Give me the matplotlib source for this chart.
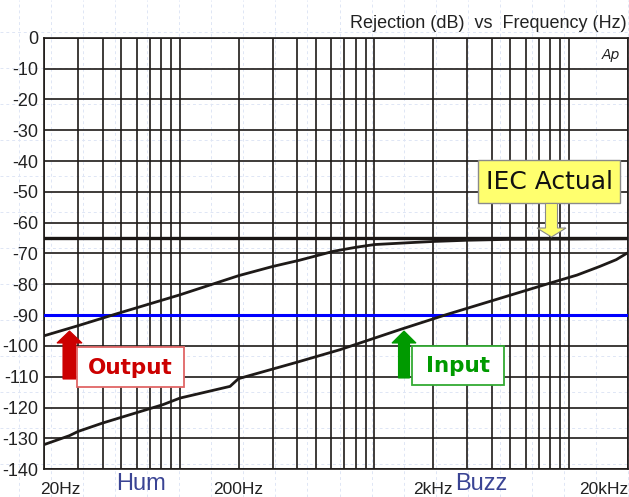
import matplotlib
matplotlib.use("Agg")
import matplotlib.pyplot as plt
import numpy as np
from matplotlib.patches import Polygon, Rectangle
from matplotlib.lines import Line2D

# rejection curves, frequency in Hz, level in dB
out_freq = [20, 30, 47, 100, 200, 300, 411, 614, 800, 1000, 1500, 2000, 3000,
            5000, 10000, 20000]
out_db = [-96.7, -93.4, -89.6, -83.4, -77.2, -74.2, -72.2, -69.3, -68.0, -67.1,
          -66.5, -66.1, -65.7, -65.4, -65.3, -65.2]

in_freq = [20, 27, 30, 40, 82, 100, 181, 200, 398, 665, 1350, 2350, 8000, 11000,
           14400, 17500, 20000]
in_db = [-132.0, -129.1, -127.7, -125.0, -119.0, -116.9, -113.1, -110.6, -105.3,
         -101.2, -94.7, -89.8, -79.6, -77.0, -74.2, -72.0, -69.8]

iec_level = -65
ref_level = -90

grid_freqs = [20, 30, 40, 50, 60, 70, 80, 90, 100, 200, 300, 400, 500, 600, 700,
              800, 900, 1000, 2000, 3000, 4000, 5000, 6000, 7000, 8000, 9000,
              10000, 20000]
y_ticks = list(range(-140, 1, 10))
x_labels = ["20Hz", "200Hz", "2kHz", "20kHz"]
x_label_freqs = [20, 200, 2000, 20000]

W, H = 629, 497
narrow = ["Liberation Sans", "DejaVu Sans"]
gridc = "#1e1a18"


def fx(x):
    return x / W


def fy(y):
    return 1 - y / H


fig = plt.figure(figsize=(W / 100, H / 100), dpi=100)
fig.patch.set_facecolor("white")

# faint dashed background grid
for x in np.arange(18.5, W, 32.1):
    fig.add_artist(Line2D([fx(x), fx(x)], [0, 1], color="#dfe6f5", lw=0.7,
                          ls=(0, (3, 3)), zorder=0))
for y in np.arange(32, H, 36):
    fig.add_artist(Line2D([0, 1], [fy(y), fy(y)], color="#dfe6f5", lw=0.7,
                          ls=(0, (3, 3)), zorder=0))

ax = fig.add_axes([fx(44), fy(469.3), fx(627.5 - 44), (469.3 - 37.7) / H])
ax.patch.set_alpha(0)
ax.set_xscale("log")
ax.set_xlim(20, 20000)
ax.set_ylim(-140, 0)

ax.set_xticks(grid_freqs)
ax.set_xticks([], minor=True)
ax.set_xticklabels([])
ax.set_yticks(y_ticks)
ax.set_yticklabels([str(v) for v in y_ticks], family=narrow, fontsize=13,
                   color="#222222")
ax.tick_params(length=0, pad=4)
ax.grid(True, color=gridc, lw=1.2)
for s in ax.spines.values():
    s.set_color(gridc)
    s.set_linewidth(1.2)

ax.axhline(iec_level, color="#1a1614", lw=2.4, zorder=3)
ax.axhline(ref_level, color="#0000ff", lw=2.2, zorder=3)
ax.plot(out_freq, out_db, color="#1e1a18", lw=2.0, zorder=4, solid_capstyle="butt")
ax.plot(in_freq, in_db, color="#1e1a18", lw=2.0, zorder=4, solid_capstyle="butt")

# title and axis texts
fig.text(fx(627), fy(28), "Rejection (dB)  vs  Frequency (Hz)", ha="right",
         va="baseline", family=narrow, fontsize=13, color="#222222")
fig.text(fx(620), fy(59), "Ap", ha="right", va="baseline", fontsize=10,
         style="italic", color="#222222")
aligns = ["left", "center", "center", "right"]
for lab, f, a in zip(x_labels, x_label_freqs, aligns):
    xp = ax.transData.transform((f, -140))[0]
    if a == "left":
        xp -= 4
    if a == "right":
        xp = W - 1
    fig.text(xp / W, fy(494), lab, ha=a, va="baseline", family=narrow,
             fontsize=12.5, color="#222222")
fig.text(fx(141), fy(490.5), "Hum", ha="center", va="baseline",
         family="Liberation Sans", fontsize=17, color="#3a4494")
fig.text(fx(481), fy(490), "Buzz", ha="center", va="baseline",
         family="Liberation Sans", fontsize=17, color="#3a4494")


def arrow(tip_x, tip_y, shaft_w, head_w, head_len, end_y, fc, ec):
    d = 1 if end_y > tip_y else -1
    base = tip_y + d * head_len
    pts = [(tip_x, tip_y), (tip_x + head_w / 2, base), (tip_x + shaft_w / 2, base),
           (tip_x + shaft_w / 2, end_y), (tip_x - shaft_w / 2, end_y),
           (tip_x - shaft_w / 2, base), (tip_x - head_w / 2, base)]
    fig.add_artist(Polygon([(fx(x), fy(y)) for x, y in pts], closed=True,
                           facecolor=fc, edgecolor=ec, lw=0.8,
                           transform=fig.transFigure, zorder=6))


def box(x0, y0, x1, y1, fc, ec, lw=1.0):
    fig.add_artist(Rectangle((fx(x0), fy(y1)), fx(x1 - x0), (y1 - y0) / H,
                             facecolor=fc, edgecolor=ec, lw=lw,
                             transform=fig.transFigure, zorder=6))


# IEC Actual callout
box(478, 160, 620, 203, "#ffff6e", "#8a8a8a")
fig.text(fx(549), fy(182), "IEC Actual", ha="center", va="center",
         fontsize=18, color="#111111", zorder=7)
arrow(551.5, 237, 12, 29, 9, 203.5, "#ffff6e", "#8a8a8a")

# Output callout
arrow(69.5, 331, 13, 25, 12, 379, "#cc0000", "#cc0000")
box(77, 347, 184, 387, "white", "#e06666", 1.3)
fig.text(fx(130.5), fy(367.5), "Output", ha="center", va="center",
         fontsize=15.5, fontweight="bold", color="#cc0000", zorder=7)

# Input callout
arrow(404, 331, 11, 24, 12, 378, "#009a00", "#009a00")
box(412, 346, 504, 385, "white", "#33aa33", 1.3)
fig.text(fx(458), fy(366), "Input", ha="center", va="center",
         fontsize=15.5, fontweight="bold", color="#009a00", zorder=7)

fig.savefig("out.png", dpi=100)
